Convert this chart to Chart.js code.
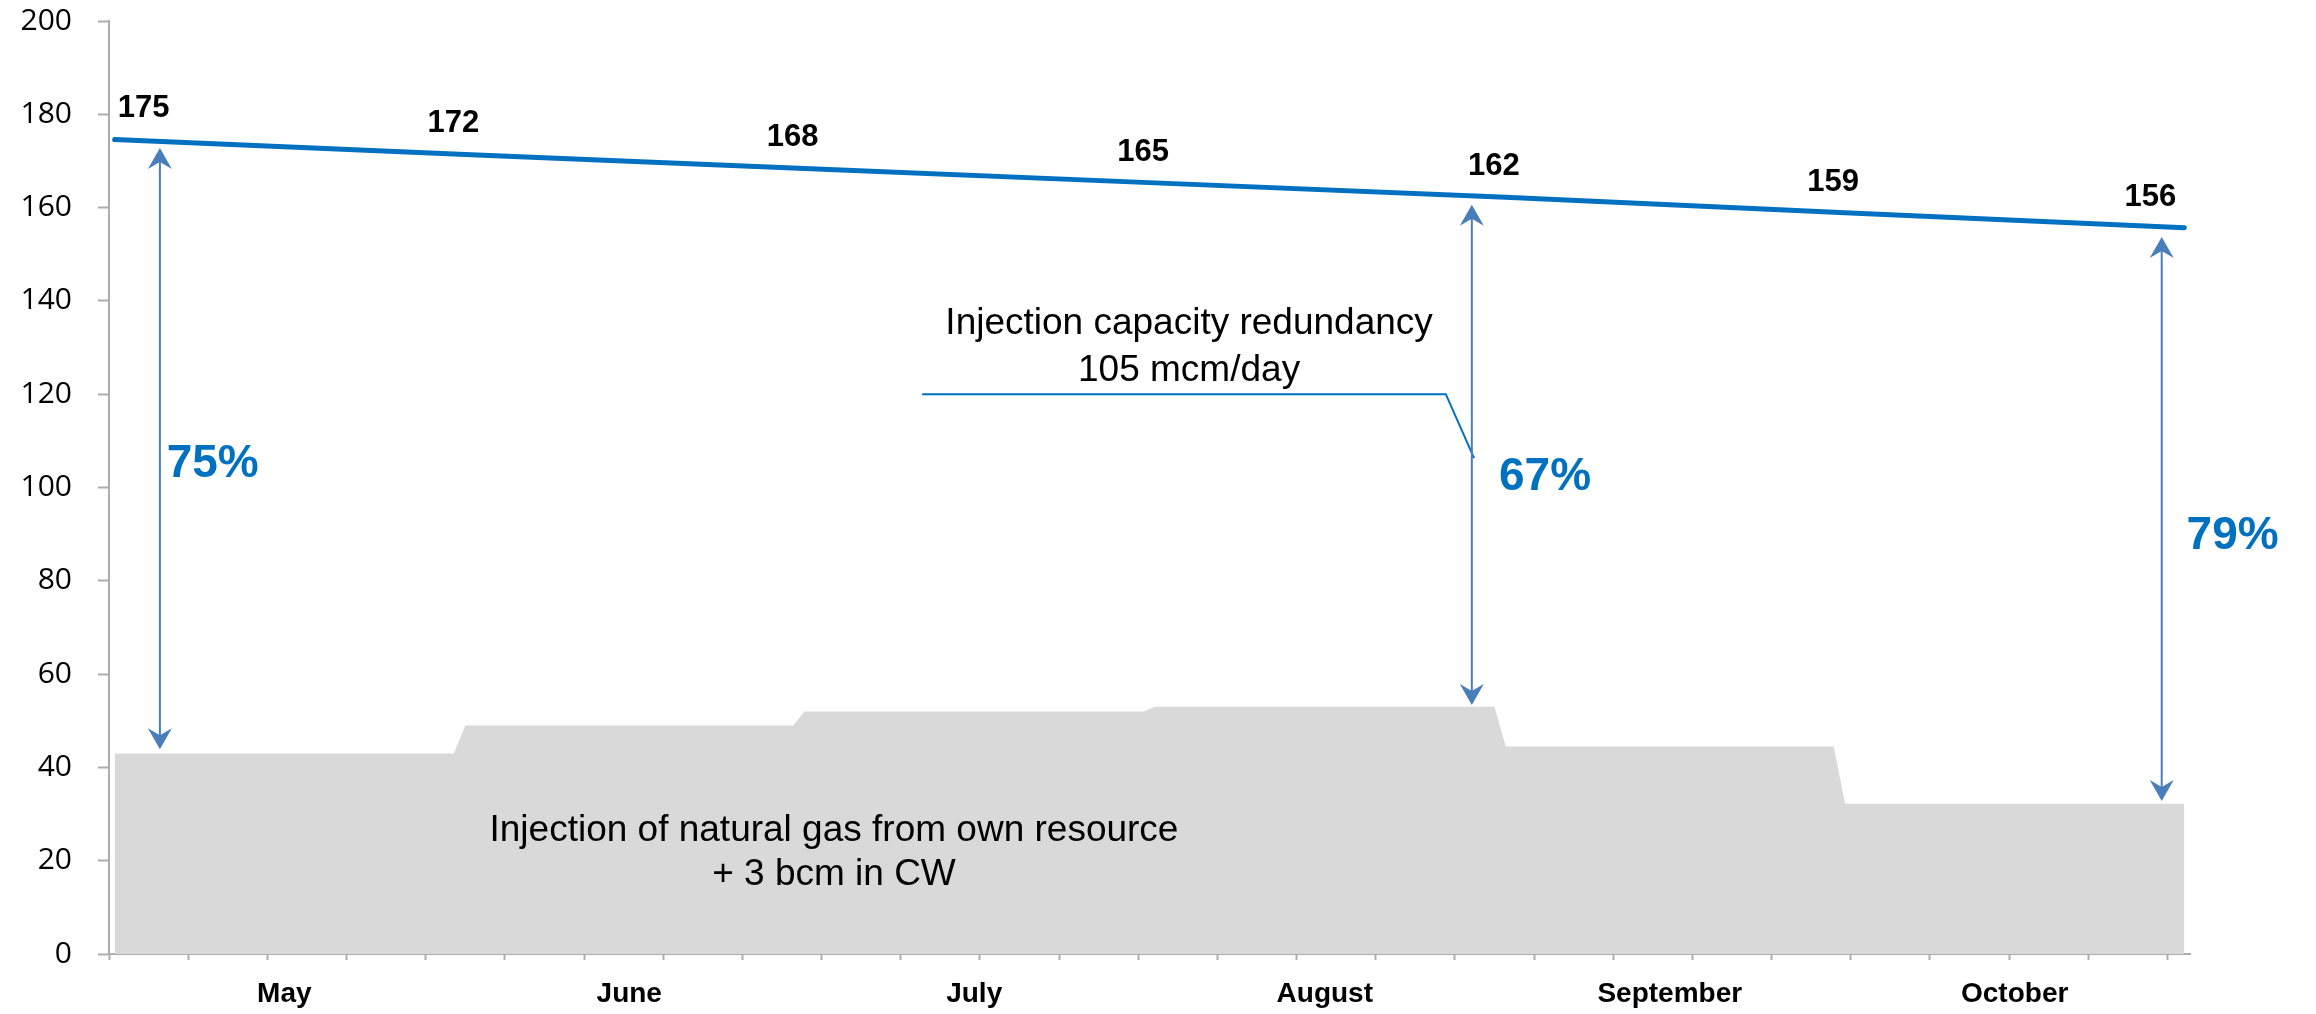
<!DOCTYPE html>
<html>
<head>
<meta charset="utf-8">
<script src="https://cdn.jsdelivr.net/npm/chart.js@4/dist/chart.umd.min.js"></script>
<style>
html,body{margin:0;padding:0;background:#fff;}
#wrap{width:2316px;height:1014px;position:relative;}
</style>
</head>
<body>
<div id="wrap"><canvas id="c" width="2316" height="1014"></canvas></div>
<script>
// ---- data (day index 0 = 1 May, 183 = 31 October) ----
const months = ['May', 'June', 'July', 'August', 'September', 'October'];
const monthStartDay = [0, 31, 61, 92, 123, 153];
const monthEndDay = [30, 60, 91, 122, 152, 183];
const ownInjection = [43, 49, 52, 53, 44.5, 32.2];          // mcm/day, grey area
const capacityDays = [0, 31, 61, 92, 123, 153, 183];
const capacityValues = [174.6, 171.4, 168.4, 165.3, 162.2, 158.9, 155.7]; // blue line
const capacityLabels = ['175', '172', '168', '165', '162', '159', '156'];
const yTickValues = [0, 20, 40, 60, 80, 100, 120, 140, 160, 180, 200];
const redundancyLabels = ['75%', '67%', '79%'];
const redundancyDays = [4, 120, 181];
const redundancyTop = [172.8, 160.6, 153.7];
const redundancyBottom = [43.9, 53.4, 32.8];

// ---- annotation placement (data units) ----
const annot = {
  pctLabel: [{d: 4.6, v: 102.2}, {d: 122.4, v: 99.4}, {d: 183.2, v: 86.8}],
  callout: {points: [[71.4, 120], [117.7, 120], [120.2, 106.3]], textDay: 95, lines: [['Injection capacity redundancy', 132.8], ['105 mcm/day', 122.8]]},
  areaText: {textDay: 63.6, lines: [['Injection of natural gas from own resource', 24.2], ['+ 3 bcm in CW', 14.8]]}
};

const areaData = [];
months.forEach((m, i) => {
  areaData.push({x: monthStartDay[i], y: ownInjection[i]});
  areaData.push({x: monthEndDay[i], y: ownInjection[i]});
});
const lineData = capacityDays.map((d, i) => ({x: d, y: capacityValues[i]}));

const SANS = "'Liberation Sans', Arial, sans-serif";
const AXIS = '#ADADAD';

const annotationPlugin = {
  id: 'annot',
  afterDatasetsDraw(chart) {
    const ctx = chart.ctx;
    const xs = chart.scales.x, ys = chart.scales.y;
    const X = d => xs.getPixelForValue(d);
    const Y = v => ys.getPixelForValue(v);
    ctx.save();

    // text inside grey area
    ctx.fillStyle = '#000';
    ctx.font = '37px ' + SANS;
    ctx.textAlign = 'center';
    ctx.textBaseline = 'alphabetic';
    annot.areaText.lines.forEach(([t, v]) => ctx.fillText(t, X(annot.areaText.textDay), Y(v)));

    // callout
    ctx.strokeStyle = '#0070C0';
    ctx.lineWidth = 2;
    ctx.beginPath();
    annot.callout.points.forEach(([d, v], i) => i ? ctx.lineTo(X(d), Y(v)) : ctx.moveTo(X(d), Y(v)));
    ctx.stroke();
    annot.callout.lines.forEach(([t, v]) => ctx.fillText(t, X(annot.callout.textDay), Y(v)));

    // double arrows
    ctx.strokeStyle = '#4A7EBB';
    ctx.fillStyle = '#4A7EBB';
    const head = (x, y, dir) => {
      const L = 21, W = 12, N = 7;
      ctx.beginPath();
      ctx.moveTo(x, y);
      ctx.lineTo(x - W, y - dir * L);
      ctx.lineTo(x, y - dir * (L - N));
      ctx.lineTo(x + W, y - dir * L);
      ctx.closePath();
      ctx.fill();
    };
    redundancyDays.forEach((d, i) => {
      const x = X(d), y1 = Y(redundancyTop[i]), y2 = Y(redundancyBottom[i]);
      ctx.lineWidth = 2;
      ctx.beginPath();
      ctx.moveTo(x, y1 + 10);
      ctx.lineTo(x, y2 - 10);
      ctx.stroke();
      head(x, y1, -1);
      head(x, y2, 1);
    });

    // percent labels
    ctx.fillStyle = '#0070C0';
    ctx.font = 'bold 46px ' + SANS;
    ctx.textAlign = 'left';
    redundancyLabels.forEach((t, i) => ctx.fillText(t, X(annot.pctLabel[i].d), Y(annot.pctLabel[i].v)));

    // data labels on the capacity line
    const meta = chart.getDatasetMeta(0);
    ctx.fillStyle = '#000';
    ctx.font = 'bold 31px ' + SANS;
    meta.data.forEach((pt, i) => {
      let x = pt.x, align = 'center';
      if (i === 0) { x = pt.x + 3; align = 'left'; }
      else if (i === meta.data.length - 1) { x = pt.x - 8; align = 'right'; }
      else { x = pt.x - 12; }
      ctx.textAlign = align;
      ctx.fillText(capacityLabels[i], x, pt.y - 22);
    });
    ctx.restore();
  }
};

new Chart(document.getElementById('c'), {
  type: 'line',
  data: {
    datasets: [
      {
        label: 'Injection capacity',
        data: lineData,
        borderColor: '#0070C0',
        borderWidth: 5,
        borderCapStyle: 'round',
        pointRadius: 0,
        tension: 0,
        fill: false
      },
      {
        label: 'Own resource injection',
        data: areaData,
        borderWidth: 0,
        borderColor: 'rgba(0,0,0,0)',
        backgroundColor: '#D9D9D9',
        pointRadius: 0,
        tension: 0,
        fill: 'origin'
      }
    ]
  },
  options: {
    responsive: false,
    animation: false,
    devicePixelRatio: 1,
    layout: {padding: {top: 21, right: 126, bottom: 0, left: 0}},
    plugins: {legend: {display: false}, tooltip: {enabled: false}},
    scales: {
      x: {
        type: 'linear',
        min: -0.5,
        max: 183.5,
        afterBuildTicks: s => {
          const t = [];
          for (let k = 0; k * 7 - 0.5 <= 183.5; k++) t.push({value: k * 7 - 0.5, week: true});
          months.forEach((m, i) => t.push({value: (monthStartDay[i] + monthEndDay[i]) / 2, month: i}));
          t.sort((a, b) => a.value - b.value);
          s.ticks = t;
        },
        afterFit: s => { s.height = 60; s.paddingLeft = 0; s.paddingRight = 0; },
        grid: {
          drawOnChartArea: false,
          drawTicks: true,
          tickLength: 6,
          tickWidth: 2,
          tickColor: c => (c.tick && c.tick.week) ? AXIS : 'rgba(0,0,0,0)',
          color: c => (c.tick && c.tick.week) ? AXIS : 'rgba(0,0,0,0)'
        },
        border: {display: true, color: AXIS, width: 2},
        ticks: {
          autoSkip: false,
          maxRotation: 0,
          minRotation: 0,
          padding: 17,
          color: '#000',
          font: {family: SANS, size: 28, weight: 'bold'},
          callback: (val, idx, ticks) => (ticks[idx] && ticks[idx].month !== undefined) ? months[ticks[idx].month] : ''
        }
      },
      y: {
        min: 0,
        max: 200,
        afterBuildTicks: s => { s.ticks = yTickValues.map(v => ({value: v})); },
        afterFit: s => { s.width = 109; s.paddingTop = 0; s.paddingBottom = 0; },
        grid: {drawOnChartArea: false, drawTicks: true, tickLength: 11, tickWidth: 2, tickColor: AXIS},
        border: {display: true, color: AXIS, width: 2},
        ticks: {
          padding: 26,
          color: '#000',
          font: {family: "'Open Sans', sans-serif", size: 30},
          callback: v => String(v)
        }
      }
    }
  },
  plugins: [annotationPlugin]
});
</script>
</body>
</html>
